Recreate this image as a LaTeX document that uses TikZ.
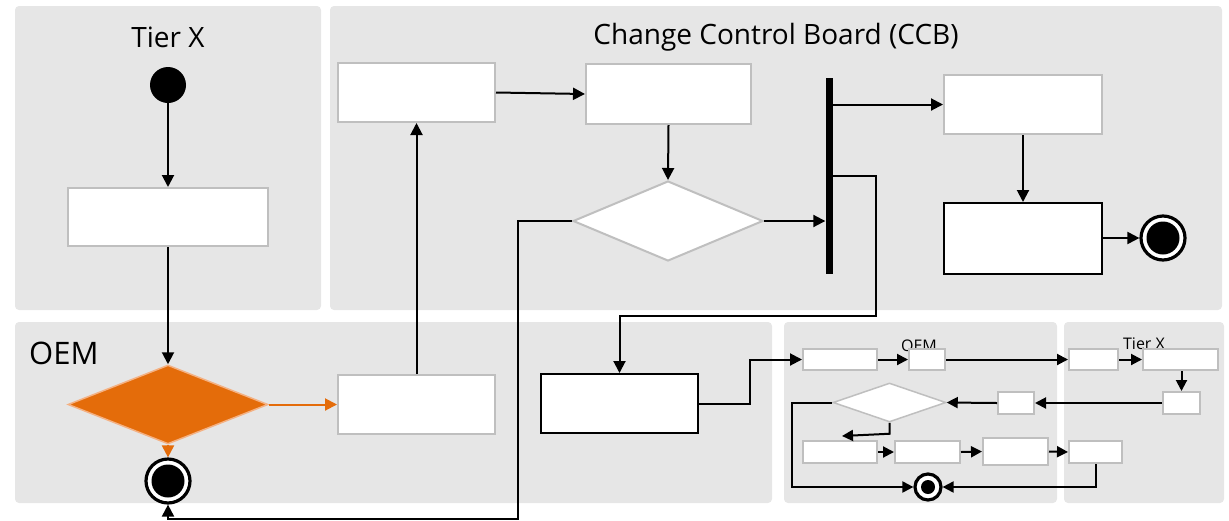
\documentclass[tikz,border=0pt]{standalone}
\usepackage{fontspec}
\setmainfont{Open Sans}
\usetikzlibrary{arrows.meta,shapes.geometric}
\definecolor{panelgray}{HTML}{E6E6E6}
\definecolor{boxgray}{HTML}{BFBFBF}
\definecolor{orangeF}{HTML}{E46C0A}
\definecolor{orangeB}{HTML}{F4B183}
\tikzset{
  panel/.style={fill=panelgray, rounded corners=4pt, draw=none},
  gbox/.style={draw=boxgray, fill=white, line width=2pt, inner sep=0pt},
  bbox/.style={draw=black, fill=white, line width=2pt, inner sep=0pt},
  conn/.style={line width=2pt, -{Triangle[length=12pt,width=12pt]}},
  sconn/.style={line width=2pt, -{Triangle[length=11pt,width=11pt]}},
  title/.style={font=\fontsize{28}{32}\selectfont, inner sep=0pt},
  stitle/.style={font=\fontsize{16}{18}\selectfont, inner sep=0pt},
  endbig/.style={circle, draw=black, line width=3.2pt, fill=white, minimum size=44pt, inner sep=0pt,
    path picture={\fill[black] (path picture bounding box.center) circle (16.5pt);}},
  endsmall/.style={circle, draw=black, line width=3.2pt, fill=white, minimum size=26pt, inner sep=0pt,
    path picture={\fill[black] (path picture bounding box.center) circle (7pt);}},
}
\begin{document}
\begin{tikzpicture}[x=1pt,y=-1pt]
\useasboundingbox (0,0) rectangle (1229,520);
% panels
\fill[panel] (15,6) rectangle (321,310);
\fill[panel] (330,6) rectangle (1222,310);
\fill[panel] (15,322) rectangle (772,503);
\fill[panel] (784,322) rectangle (1057,503);
\fill[panel] (1064,322) rectangle (1224,503);
% titles
\node[title] (tTier) at (168,37) {Tier X};
\node[title] (tCCB) at (776,37) {Change Control Board (CCB)};
\node[title, anchor=west, font=\fontsize{31}{34}\selectfont] (tOEM) at (29,353) {OEM};
\node[stitle, anchor=base] (sOEM) at (919,351) {OEM};
\node[stitle, anchor=base] (sTier) at (1144,349) {Tier X};
% Tier X lane
\node[circle, fill=black, minimum size=36pt, inner sep=0pt] (start) at (168,85) {};
\node[gbox, minimum width=200pt, minimum height=58pt] (tr) at (168,217) {};
% OEM lane
\node[diamond, fill=orangeF, draw=orangeB, line width=1.5pt, inner sep=0pt, minimum width=200pt, minimum height=79pt] (od) at (168,404.5) {};
\node[endbig] (end1) at (168,481) {};
\node[gbox, minimum width=157pt, minimum height=59pt] (or) at (416.5,404.5) {};
% CCB lane
\node[gbox, minimum width=157pt, minimum height=59pt] (c1) at (416.5,92.5) {};
\node[gbox, minimum width=165pt, minimum height=60pt] (c2) at (668.5,94) {};
\node[diamond, draw=boxgray, fill=white, line width=2pt, inner sep=0pt, minimum width=190pt, minimum height=80pt] (cd) at (668,221) {};
\node[fill=black, minimum width=7pt, minimum height=196pt, inner sep=0pt] (bar) at (829,176) {};
\node[gbox, minimum width=158pt, minimum height=59pt] (c3) at (1023,104.5) {};
\node[bbox, minimum width=158pt, minimum height=71pt] (c4) at (1023,238.5) {};
\node[endbig] (end2) at (1163,238) {};
\node[bbox, minimum width=157pt, minimum height=59pt] (c5) at (619.5,403.5) {};
% small diagram
\node[gbox, minimum width=74pt, minimum height=21pt] (sa) at (840,359.5) {};
\node[gbox, minimum width=36pt, minimum height=21pt] (sb) at (927,359.5) {};
\node[gbox, minimum width=49pt, minimum height=21pt] (sc) at (1093.5,359.5) {};
\node[gbox, minimum width=75pt, minimum height=21pt] (sd) at (1180.5,359.5) {};
\node[gbox, minimum width=37pt, minimum height=22pt] (se) at (1181.5,403) {};
\node[gbox, minimum width=36pt, minimum height=22pt] (sf) at (1016,403) {};
\node[diamond, draw=boxgray, fill=white, line width=1.5pt, inner sep=0pt, minimum width=113pt, minimum height=39pt] (sdia) at (889.5,402.5) {};
\node[gbox, minimum width=74pt, minimum height=22pt] (sg) at (840,452) {};
\node[gbox, minimum width=65pt, minimum height=22pt] (sh) at (927.5,452) {};
\node[gbox, minimum width=65pt, minimum height=27pt] (si) at (1015.5,451.5) {};
\node[gbox, minimum width=53pt, minimum height=22pt] (sj) at (1095.5,452) {};
\node[endsmall] (send) at (928,487) {};
% helper coordinates
\coordinate (k1) at (876,316);
\coordinate (k2) at (750,380);
\coordinate (k3) at (518,519);
\coordinate (k4) at (842,436);
\coordinate (k5) at (792,487);
% connectors big
\draw[conn] (start) -- (tr);
\draw[conn] (tr) -- (od);
\draw[conn, orangeF] (od.east) -- (or.west);
\draw[conn, orangeF] (od.south) -- (end1.north);
\draw[conn] (or.north) -- (c1.south);
\draw[conn] (c1.east) -- (c2.west);
\draw[conn] (c2.south) -- (cd.north);
\draw[conn] (cd.east) -- (bar.west |- cd.east);
\draw[conn] (bar.east |- c3.west) -- (c3.west);
\draw[conn] (c3.south) -- (c4.north);
\draw[conn] (c4.east |- end2.west) -- (end2.west);
\draw[conn] (bar.east) -| (k1) -| (c5.north);
\draw[conn] (c5.east) -| (k2) |- (sa.west);
\draw[conn] (cd.west) -| (k3) -| (end1.south);
% connectors small
\draw[sconn] (sa.east) -- (sb.west);
\draw[sconn] (sb.east) -- (sc.west);
\draw[sconn] (sc.east) -- (sd.west);
\draw[sconn] (se.north |- sd.south) -- (se.north);
\draw[sconn] (se.west) -- (sf.east);
\draw[sconn] (sf.west) -- (sdia.east);
\draw[sconn] (sdia.south) -- ++(0,11) -- (k4);
\draw[sconn] (sg.east) -- (sh.west);
\draw[sconn] (sh.east) -- (si.west);
\draw[sconn] (si.east) -- (sj.west);
\draw[sconn] (sdia.west) -| (k5) -- (send.west);
\draw[sconn] (sj.south) |- (send.east);
\end{tikzpicture}
\end{document}
